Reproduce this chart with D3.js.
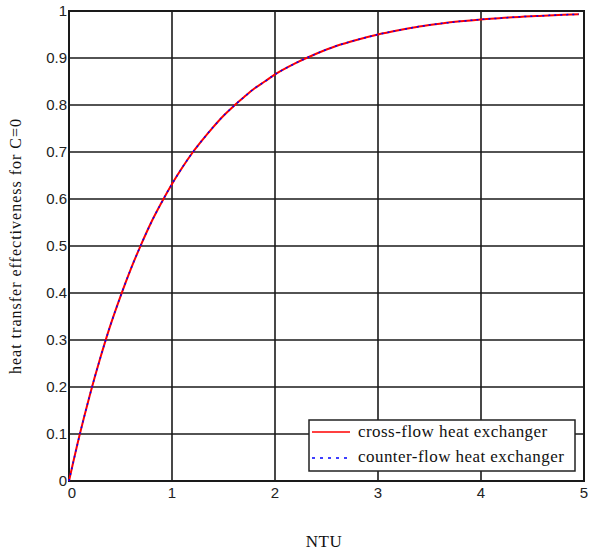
<!DOCTYPE html>
<html><head><meta charset="utf-8">
<script src="https://cdn.jsdelivr.net/npm/d3@7"></script>
<style>body{margin:0;background:#fff}svg{display:block}</style>
</head><body>
<script>
const ntu = [0,0.1,0.2,0.3,0.4,0.5,0.6,0.7,0.8,0.9,1.0,1.1,1.2,1.3,1.4,1.5,1.6,1.7,1.8,1.9,2.0,2.2,2.4,2.6,2.8,3.0,3.2,3.4,3.6,3.8,4.0,4.2,4.4,4.6,4.8,4.95];
const crossFlow = [0,0.095,0.181,0.259,0.330,0.393,0.451,0.503,0.551,0.593,0.632,0.667,0.699,0.727,0.753,0.777,0.798,0.817,0.835,0.850,0.865,0.889,0.909,0.926,0.939,0.950,0.959,0.967,0.973,0.978,0.982,0.985,0.988,0.990,0.992,0.993];
const counterFlow = [0,0.095,0.181,0.259,0.330,0.393,0.451,0.503,0.551,0.593,0.632,0.667,0.699,0.727,0.753,0.777,0.798,0.817,0.835,0.850,0.865,0.889,0.909,0.926,0.939,0.950,0.959,0.967,0.973,0.978,0.982,0.985,0.988,0.990,0.992,0.993];
const xTicks = [0,1,2,3,4,5];
const yTicks = [0,0.1,0.2,0.3,0.4,0.5,0.6,0.7,0.8,0.9,1];
const seriesNames = ["cross-flow heat exchanger","counter-flow heat exchanger"];

const W=592,H=554;
const L=69,R=584,T=11,B=481;
const svg=d3.select("body").append("svg").attr("width",W).attr("height",H);
const x=d3.scaleLinear().domain([0,5]).range([L,R]);
const y=d3.scaleLinear().domain([0,1]).range([B,T]);
const gridC="#1a1a1a";

// grid
svg.append("g").selectAll("line").data(xTicks).join("line")
 .attr("x1",d=>x(d)).attr("x2",d=>x(d)).attr("y1",T).attr("y2",B)
 .attr("stroke",gridC).attr("stroke-width",1.6);
svg.append("g").selectAll("line").data(yTicks).join("line")
 .attr("x1",L).attr("x2",R).attr("y1",d=>y(d)).attr("y2",d=>y(d))
 .attr("stroke",gridC).attr("stroke-width",1.6);
svg.append("rect").attr("x",L).attr("y",T).attr("width",R-L).attr("height",B-T)
 .attr("fill","none").attr("stroke",gridC).attr("stroke-width",2);

// tick labels
const tf="'Liberation Sans', Arial, sans-serif";
svg.append("g").selectAll("text").data(yTicks).join("text")
 .attr("x",L-2).attr("y",d=>y(d)+5).attr("text-anchor","end")
 .attr("font-family",tf).attr("font-size",15).attr("fill","#222")
 .text(d=>d3.format("")(d));
svg.append("g").selectAll("text").data(xTicks).join("text")
 .attr("x",d=>x(d)+(d===0?3:0)).attr("y",B+17).attr("text-anchor","middle")
 .attr("font-family",tf).attr("font-size",15).attr("fill","#222")
 .text(d=>d);

// axis titles
const sf="'Liberation Serif','Times New Roman',serif";
svg.append("text").attr("x",324).attr("y",547).attr("text-anchor","middle")
 .attr("font-family",sf).attr("font-size",17).attr("letter-spacing",0.5).attr("fill","#111").text("NTU");
svg.append("text").attr("transform","translate(21,246) rotate(-90)").attr("text-anchor","middle")
 .attr("font-family",sf).attr("font-size",16).attr("letter-spacing",1).attr("fill","#111").text("heat transfer effectiveness for C=0");

// curves
const line=d3.line().x((d,i)=>x(ntu[i])).y(d=>y(d)).curve(d3.curveMonotoneX);
svg.append("path").datum(crossFlow).attr("d",line).attr("fill","none").attr("stroke","#ff0000").attr("stroke-width",2);
svg.append("path").datum(counterFlow).attr("d",line).attr("fill","none").attr("stroke","#0000ff").attr("stroke-width",1.5).attr("stroke-dasharray","2,4");

// legend
const lg=svg.append("g");
lg.append("rect").attr("x",309).attr("y",420).attr("width",266).attr("height",51)
 .attr("fill","#fff").attr("stroke","#222").attr("stroke-width",1.5);
lg.append("line").attr("x1",312).attr("x2",350).attr("y1",432).attr("y2",432).attr("stroke","#ff0000").attr("stroke-width",1.5);
lg.append("line").attr("x1",312).attr("x2",350).attr("y1",458).attr("y2",458).attr("stroke","#0000ff").attr("stroke-width",1.5).attr("stroke-dasharray","3,5");
lg.selectAll("text").data(seriesNames).join("text")
 .attr("x",358).attr("y",(d,i)=>437+i*25)
 .attr("font-family",sf).attr("font-size",17).attr("letter-spacing",0.45).attr("fill","#111").text(d=>d);
</script>
</body></html>
